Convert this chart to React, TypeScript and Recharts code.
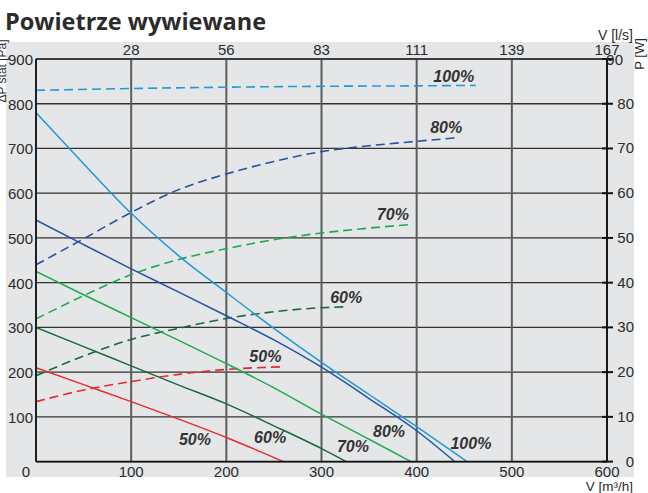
import { ComposedChart, Line, XAxis, YAxis, CartesianGrid, ReferenceDot } from "recharts";

// flow axis (m3/h) and its l/s twin on top
const flowTicks = [0, 100, 200, 300, 400, 500, 600];
const litreLabels = ["", "28", "56", "83", "111", "139", "167"];
const paTicks = [0, 100, 200, 300, 400, 500, 600, 700, 800, 900];
const wTicks = [0, 10, 20, 30, 40, 50, 60, 70, 80, 90];

// static pressure curves [Pa]
const paFlow100 = [0, 50, 100, 150, 200, 250, 300, 350, 400, 453];
const pa100 = [780, 666, 555, 460, 378, 298, 222, 150, 78, 0];
const paFlow80 = [0, 50, 100, 150, 200, 250, 300, 350, 400, 440];
const pa80 = [540, 485, 431, 379, 326, 272, 211, 141, 69, 0];
const paFlow70 = [0, 50, 100, 150, 200, 250, 300, 350, 394];
const pa70 = [425, 373, 322, 271, 219, 165, 106, 50, 0];
const paFlow60 = [0, 50, 100, 150, 200, 250, 300, 326];
const pa60 = [300, 257, 214, 171, 129, 80, 29, 0];
const paFlow50 = [0, 50, 100, 150, 200, 260];
const pa50 = [210, 172, 134, 95, 54, 0];

// power curves [W]
const wFlow100 = [0, 100, 200, 300, 400, 462];
const w100 = [83.0, 83.4, 83.7, 83.9, 84.0, 84.1];
const wFlow80 = [0, 50, 100, 150, 200, 250, 300, 350, 400, 443];
const w80 = [44.0, 49.8, 55.7, 60.8, 64.3, 67.1, 69.3, 70.6, 71.6, 72.4];
const wFlow70 = [0, 50, 100, 150, 200, 250, 300, 350, 394];
const w70 = [31.9, 37.1, 41.8, 45.2, 47.6, 49.6, 51.1, 52.2, 53.0];
const wFlow60 = [0, 50, 100, 150, 200, 250, 300, 326];
const w60 = [19.2, 23.6, 27.3, 29.8, 32.0, 33.5, 34.4, 34.6];
const wFlow50 = [0, 50, 100, 150, 200, 260];
const w50 = [13.4, 16.0, 17.9, 19.5, 20.6, 21.2];

const curveLabels = [
  { text: "100%", q: 439, pa: 862 },
  { text: "80%", q: 431, pa: 747 },
  { text: "70%", q: 375, pa: 554 },
  { text: "60%", q: 326, pa: 367 },
  { text: "50%", q: 241, pa: 236 },
  { text: "50%", q: 167, pa: 51 },
  { text: "60%", q: 246, pa: 54 },
  { text: "70%", q: 333, pa: 35 },
  { text: "80%", q: 371, pa: 68 },
  { text: "100%", q: 457, pa: 42 },
];

const C100 = "#1f9ad8";
const C80 = "#2453a4";
const C70 = "#1eaa4f";
const C60 = "#186b3a";
const C50 = "#ec2a2c";

const ink = "#2b2b2b";
const numFont = "'Liberation Sans', Arial, sans-serif";

const zip = (xs: number[], ys: number[]) => xs.map((q, i) => ({ q, v: ys[i] }));

function LeftTick({ x, y, payload }: any) {
  // the corner "0" belongs to the flow axis
  if (payload.value === 0) return <g />;
  return (
    <text x={x - 3} y={y} dy={6} textAnchor="end" fontSize={15} fill={ink} fontFamily={numFont}>
      {payload.value}
    </text>
  );
}

function RightTick({ x, y, payload }: any) {
  const top = payload.value === 90;
  return (
    <g>
      <line x1={x - 5} x2={x + 6} y1={y} y2={y} stroke="#111" strokeWidth={2} />
      <text x={top ? x + 16 : x + 27} y={y} dy={top ? 6 : 5} textAnchor="end" fontSize={15} fill={ink} fontFamily={numFont}>
        {payload.value}
      </text>
    </g>
  );
}

function BottomTick({ x, y, payload }: any) {
  return (
    <text x={payload.value === 0 ? x - 10 : x} y={y + 15.5} textAnchor="middle" fontSize={15} fill={ink} fontFamily={numFont}>
      {payload.value}
    </text>
  );
}

function TopTick({ x, y, payload }: any) {
  const i = flowTicks.indexOf(payload.value);
  return (
    <text x={x} y={y - 4} textAnchor="middle" fontSize={15} fill={ink} fontFamily={numFont}>
      {litreLabels[i]}
    </text>
  );
}

function PercentLabel({ cx, cy, text }: any) {
  return (
    <text
      x={cx}
      y={cy}
      dy={6}
      textAnchor="middle"
      fontSize={16}
      fontWeight="bold"
      fontStyle="italic"
      fill="#333"
      fontFamily={numFont}
    >
      {text}
    </text>
  );
}

export default function App() {
  return (
    <div style={{ position: "absolute", left: 0, top: 0, width: 648, height: 493 }}>
      <div style={{ position: "absolute", left: 6, top: 42, width: 628, height: 435, background: "#e5e6e8" }} />
      <div style={{ position: "absolute", left: 0, top: 0 }}>
        <ComposedChart width={648} height={493} margin={{ top: 39, right: 11, bottom: 11.4, left: 6 }}>
          <CartesianGrid yAxisId="pa" vertical={false} stroke="#333" strokeWidth={1.3} />
          <CartesianGrid yAxisId="pa" horizontal={false} stroke="#5c5c5c" strokeWidth={2} />
          <XAxis
            dataKey="q"
            type="number"
            domain={[0, 600]}
            ticks={flowTicks}
            allowDataOverflow
            height={20}
            tickSize={0}
            tickMargin={0}
            tick={<BottomTick />}
            axisLine={{ stroke: "#111", strokeWidth: 1.6 }}
            tickLine={false}
          />
          <XAxis
            xAxisId="top"
            orientation="top"
            dataKey="q"
            type="number"
            domain={[0, 600]}
            ticks={flowTicks}
            allowDataOverflow
            height={20}
            tickSize={0}
            tickMargin={0}
            tick={<TopTick />}
            axisLine={{ stroke: "#333", strokeWidth: 1.3 }}
            tickLine={false}
          />
          <YAxis
            yAxisId="pa"
            type="number"
            domain={[0, 900]}
            ticks={paTicks}
            allowDataOverflow
            width={30}
            tickSize={0}
            tickMargin={0}
            tick={<LeftTick />}
            axisLine={{ stroke: "#111", strokeWidth: 1.6 }}
            tickLine={false}
          />
          <YAxis
            yAxisId="w"
            orientation="right"
            type="number"
            domain={[0, 90]}
            ticks={wTicks}
            allowDataOverflow
            width={30}
            tickSize={0}
            tickMargin={0}
            tick={<RightTick />}
            axisLine={{ stroke: "#111", strokeWidth: 1.8 }}
            tickLine={false}
          />

          <Line yAxisId="w" data={zip(wFlow100, w100)} dataKey="v" type="monotone" stroke={C100} strokeWidth={1.6} strokeDasharray="9 5" dot={false} isAnimationActive={false} />
          <Line yAxisId="w" data={zip(wFlow80, w80)} dataKey="v" type="monotone" stroke={C80} strokeWidth={1.6} strokeDasharray="9 5" dot={false} isAnimationActive={false} />
          <Line yAxisId="w" data={zip(wFlow70, w70)} dataKey="v" type="monotone" stroke={C70} strokeWidth={1.6} strokeDasharray="9 5" dot={false} isAnimationActive={false} />
          <Line yAxisId="w" data={zip(wFlow60, w60)} dataKey="v" type="monotone" stroke={C60} strokeWidth={1.6} strokeDasharray="9 5" dot={false} isAnimationActive={false} />
          <Line yAxisId="w" data={zip(wFlow50, w50)} dataKey="v" type="monotone" stroke={C50} strokeWidth={1.6} strokeDasharray="9 5" dot={false} isAnimationActive={false} />

          <Line yAxisId="pa" data={zip(paFlow100, pa100)} dataKey="v" type="monotone" stroke={C100} strokeWidth={1.5} dot={false} isAnimationActive={false} />
          <Line yAxisId="pa" data={zip(paFlow80, pa80)} dataKey="v" type="monotone" stroke={C80} strokeWidth={1.5} dot={false} isAnimationActive={false} />
          <Line yAxisId="pa" data={zip(paFlow70, pa70)} dataKey="v" type="monotone" stroke={C70} strokeWidth={1.5} dot={false} isAnimationActive={false} />
          <Line yAxisId="pa" data={zip(paFlow60, pa60)} dataKey="v" type="monotone" stroke={C60} strokeWidth={1.5} dot={false} isAnimationActive={false} />
          <Line yAxisId="pa" data={zip(paFlow50, pa50)} dataKey="v" type="monotone" stroke={C50} strokeWidth={1.5} dot={false} isAnimationActive={false} />

          {curveLabels.map((l, i) => (
            <ReferenceDot
              key={i}
              yAxisId="pa"
              x={l.q}
              y={l.pa}
              r={1}
              shape={(p: any) => <PercentLabel cx={p.cx} cy={p.cy} text={l.text} />}
            />
          ))}
        </ComposedChart>
      </div>
      <svg width={648} height={493} style={{ position: "absolute", left: 0, top: 0, pointerEvents: "none" }}>
        <text x={5} y={29.5} fontSize={23.5} fontWeight="bold" fill={ink} fontFamily="'Open Sans', sans-serif">
          Powietrze wywiewane
        </text>
        <text x={633} y={39.5} textAnchor="end" fontSize={14} fill={ink} fontFamily={numFont}>
          V [l/s]
        </text>
        <text transform="translate(644,54) rotate(-90)" textAnchor="middle" fontSize={13} fill={ink} fontFamily={numFont}>
          P [W]
        </text>
        <text x={633} y={491} textAnchor="end" fontSize={13.5} fill={ink} fontFamily={numFont}>
          V [m³/h]
        </text>
        <text transform="translate(6,71) rotate(-90)" textAnchor="middle" fontSize={12} fill={ink} fontFamily={numFont}>
          ΔP stat [Pa]
        </text>
      </svg>
    </div>
  );
}
